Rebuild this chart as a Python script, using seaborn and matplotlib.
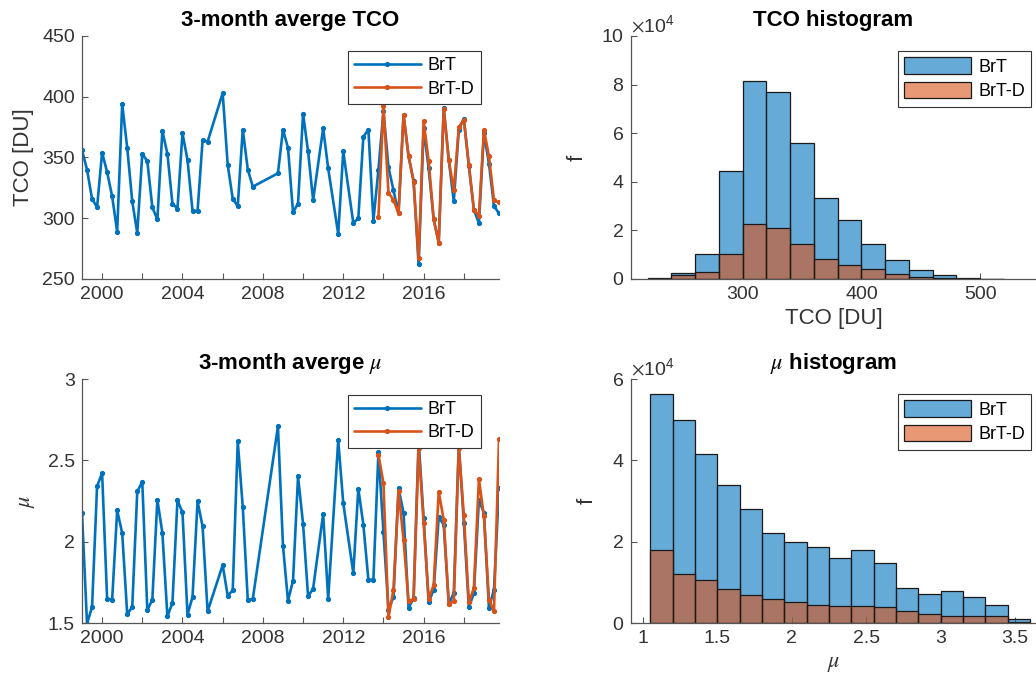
import matplotlib
matplotlib.use("Agg")
import matplotlib.pyplot as plt
from matplotlib.ticker import FixedLocator, FuncFormatter
import pandas as pd
import seaborn as sns

# ---- seasonal (3-month) time axis, decimal years ----
time_brt = [
    1999.00, 1999.25, 1999.50, 1999.75, 2000.00, 2000.25, 2000.50, 2000.75,
    2001.00, 2001.25, 2001.50, 2001.75, 2002.00, 2002.25, 2002.50, 2002.75,
    2003.00, 2003.25, 2003.50, 2003.75, 2004.00, 2004.25, 2004.50, 2004.75,
    2005.00, 2005.25,
    2006.00, 2006.25, 2006.50, 2006.75, 2007.00, 2007.25, 2007.50,
    2008.75, 2009.00, 2009.25, 2009.50, 2009.75, 2010.00, 2010.25, 2010.50,
    2011.00, 2011.25, 2011.75, 2012.00, 2012.50, 2012.75,
    2013.00, 2013.25, 2013.50, 2013.75, 2014.00, 2014.25, 2014.50, 2014.75,
    2015.00, 2015.25, 2015.50, 2015.75, 2016.00, 2016.25, 2016.50, 2016.75,
    2017.00, 2017.25, 2017.50, 2017.75, 2018.00, 2018.25, 2018.50, 2018.75,
    2019.00, 2019.25, 2019.50, 2019.75,
]
time_brtd = [
    2013.75, 2014.00, 2014.25, 2014.50, 2014.75,
    2015.00, 2015.25, 2015.50, 2015.75, 2016.00, 2016.25, 2016.50, 2016.75,
    2017.00, 2017.25, 2017.50, 2017.75, 2018.00, 2018.25, 2018.50, 2018.75,
    2019.00, 2019.25, 2019.50, 2019.75,
]

# 3-month average total column ozone [DU]
tco_brt = [
    356, 340, 316, 309, 354, 338, 318, 289,
    394, 358, 314, 288, 353, 347, 309, 299,
    372, 353, 312, 308, 370, 348, 306, 306,
    364, 363,
    403, 344, 316, 310, 373, 340, 326,
    337, 373, 358, 305, 312, 386, 355, 315,
    374, 341, 287, 355, 296, 300,
    367, 373, 298, 340, 388, 342, 323, 304,
    385, 351, 331, 262, 374, 341, 299, 280,
    391, 348, 314, 373, 382, 343, 307, 296,
    370, 345, 310, 304,
]
tco_brtd = [
    301, 392, 321, 315, 304,
    385, 351, 330, 267, 380, 347, 299, 280,
    390, 348, 323, 375, 381, 344, 307, 302,
    373, 351, 315, 313,
]

# 3-month average mu
mu_brt = [
    2.176, 1.496, 1.598, 2.340, 2.422, 1.649, 1.643, 2.192,
    2.053, 1.555, 1.598, 2.309, 2.367, 1.578, 1.643, 2.258,
    2.053, 1.541, 1.623, 2.254, 2.180, 1.551, 1.660, 2.248,
    2.094, 1.572,
    1.856, 1.668, 1.700, 2.617, 2.213, 1.639, 1.649,
    2.709, 1.975, 1.637, 1.760, 2.401, 2.110, 1.664, 1.711,
    2.170, 1.649, 2.623, 2.237, 1.807, 2.326,
    2.104, 1.766, 1.766, 2.550, 2.059, 1.582, 1.660, 2.330,
    2.176, 1.592, 1.653, 2.620, 2.145, 1.627, 1.705, 2.150,
    2.104, 1.617, 1.684, 2.600, 2.115, 1.596, 1.684, 2.258,
    2.176, 1.592, 1.705, 2.330,
]
mu_brtd = [
    2.535, 2.360, 1.535, 1.705, 2.309,
    2.012, 1.633, 1.649, 2.576, 2.115, 1.647, 1.735, 2.305,
    2.135, 1.617, 1.633, 2.576, 2.166, 1.627, 1.715, 2.385,
    2.155, 1.643, 1.571, 2.631,
]

# ---- histogram bins and counts ----
tco_bin_edges = [220, 240, 260, 280, 300, 320, 340, 360, 380, 400,
                 420, 440, 460, 480, 500, 520]
tco_hist_brt = [500, 2300, 10400, 44400, 81600, 77100, 55800, 33500,
                24300, 14500, 7700, 3600, 1800, 500, 100]
tco_hist_brtd = [200, 1500, 3000, 10400, 22800, 20900, 14500, 8100,
                 5900, 4000, 2200, 1000, 500, 100, 0]

mu_bin_edges = [1.05, 1.20, 1.35, 1.50, 1.65, 1.80, 1.95, 2.10, 2.25,
                2.40, 2.55, 2.70, 2.85, 3.00, 3.15, 3.30, 3.45, 3.60]
mu_hist_brt = [56400, 50000, 41600, 33900, 28100, 22100, 19900, 18800,
               16100, 18000, 14700, 8600, 7200, 7800, 6500, 4500, 1000]
mu_hist_brtd = [18000, 12000, 10600, 8400, 7000, 5800, 5100, 4500,
                4300, 4300, 4000, 2900, 2300, 1800, 1800, 1600, 150]

year_ticks = [2000, 2002, 2004, 2006, 2008, 2010, 2012, 2014, 2016, 2018]

BLUE = "#0072BD"
ORANGE = "#D95319"
SPINE_COLOR = "#555555"
TEXT_COLOR = "#333333"

sns.set_style("ticks")
plt.rcParams["font.family"] = ["Liberation Sans", "DejaVu Sans"]
plt.rcParams["mathtext.fontset"] = "stix"
plt.rcParams["axes.edgecolor"] = SPINE_COLOR
plt.rcParams["xtick.color"] = SPINE_COLOR
plt.rcParams["ytick.color"] = SPINE_COLOR
plt.rcParams["xtick.labelcolor"] = TEXT_COLOR
plt.rcParams["ytick.labelcolor"] = TEXT_COLOR
plt.rcParams["axes.labelcolor"] = TEXT_COLOR
plt.rcParams["text.color"] = "black"

fig = plt.figure(figsize=(10.36, 6.87), dpi=100)
W, H = 1036, 687


def add_ax(x0, y0, x1, y1):
    return fig.add_axes([x0 / W, 1 - y1 / H, (x1 - x0) / W, (y1 - y0) / H])


ax_tco = add_ax(82, 36, 499, 279)
ax_mu = add_ax(82, 379, 499, 623)
ax_htco = add_ax(631, 36, 1036, 279)
ax_hmu = add_ax(631, 379, 1036, 623)

TICK_FS = 14
LABEL_FS = 16
TITLE_FS = 16
LEG_FS = 13


def style_axes(ax):
    sns.despine(ax=ax)
    ax.spines["left"].set_linewidth(0.9)
    ax.spines["bottom"].set_linewidth(0.9)
    ax.tick_params(direction="in", length=4, width=0.8, labelsize=TICK_FS,
                   pad=5)


def g_fmt(v, pos):
    return f"{v:g}"


def year_fmt(v, pos):
    return f"{int(round(v))}" if int(round(v)) % 4 == 0 else ""


line_kw = dict(marker=".", markersize=6, linewidth=1.9, estimator=None,
               sort=False)

# ---- time series panels ----
for ax, yb, yd in [(ax_tco, tco_brt, tco_brtd), (ax_mu, mu_brt, mu_brtd)]:
    sns.lineplot(x=time_brt, y=yb, ax=ax, color=BLUE, label="BrT",
                 markeredgecolor=BLUE, **line_kw)
    sns.lineplot(x=time_brtd, y=yd, ax=ax, color=ORANGE, label="BrT-D",
                 markeredgecolor=ORANGE, **line_kw)
    style_axes(ax)
    ax.set_xlim(time_brt[0], time_brt[-1])
    ax.xaxis.set_major_locator(FixedLocator(year_ticks))
    ax.xaxis.set_major_formatter(FuncFormatter(year_fmt))
    ax.set_xlabel("")

ax_tco.set_ylim(250, 450)
ax_tco.set_yticks([250, 300, 350, 400, 450])
ax_tco.set_ylabel("TCO [DU]", fontsize=LABEL_FS, labelpad=6)
ax_tco.set_title("3-month averge TCO", fontsize=TITLE_FS, fontweight="bold",
                 pad=7)

ax_mu.set_ylim(1.5, 3)
ax_mu.set_yticks([1.5, 2, 2.5, 3])
ax_mu.yaxis.set_major_formatter(FuncFormatter(g_fmt))
ax_mu.set_ylabel(r"$\mu$", fontsize=LABEL_FS, labelpad=8)
ax_mu.set_title(r"3-month averge $\mu$", fontsize=TITLE_FS, fontweight="bold",
                pad=7)


# ---- histogram panels ----
def draw_hist(ax, edges, counts, color, label):
    edges = [float(e) for e in edges]
    centers = [(a + b) / 2 for a, b in zip(edges[:-1], edges[1:])]
    df = pd.DataFrame({"value": centers, "count": [float(c) for c in counts]})
    sns.histplot(data=df, x="value", weights="count", bins=edges, ax=ax,
                 color=color, alpha=0.6, edgecolor="#1a1a1a", linewidth=0.9,
                 label=label)


draw_hist(ax_htco, tco_bin_edges, tco_hist_brt, BLUE, "BrT")
draw_hist(ax_htco, tco_bin_edges, tco_hist_brtd, ORANGE, "BrT-D")
draw_hist(ax_hmu, mu_bin_edges, mu_hist_brt, BLUE, "BrT")
draw_hist(ax_hmu, mu_bin_edges, mu_hist_brtd, ORANGE, "BrT-D")

for ax in (ax_htco, ax_hmu):
    style_axes(ax)
    ax.ticklabel_format(axis="y", style="sci", scilimits=(4, 4),
                        useMathText=True)
    ax.yaxis.get_offset_text().set_fontsize(TICK_FS)
    ax.yaxis.get_offset_text().set_color(TEXT_COLOR)
    ax.set_ylabel("f", fontsize=LABEL_FS, labelpad=10)

ax_htco.set_xlim(206, 547)
ax_htco.set_xticks([300, 400, 500])
ax_htco.set_ylim(0, 100000)
ax_htco.set_yticks([0, 20000, 40000, 60000, 80000, 100000])
ax_htco.set_xlabel("TCO [DU]", fontsize=LABEL_FS)
ax_htco.set_title("TCO histogram", fontsize=TITLE_FS, fontweight="bold", pad=7)

ax_hmu.set_xlim(0.92, 3.64)
ax_hmu.set_xticks([1, 1.5, 2, 2.5, 3, 3.5])
ax_hmu.xaxis.set_major_formatter(FuncFormatter(g_fmt))
ax_hmu.set_ylim(0, 60000)
ax_hmu.set_yticks([0, 20000, 40000, 60000])
ax_hmu.set_xlabel(r"$\mu$", fontsize=LABEL_FS)
ax_hmu.set_title(r"$\mu$ histogram", fontsize=TITLE_FS, fontweight="bold",
                 pad=7)

# ---- legends ----
leg_kw = dict(fontsize=LEG_FS, frameon=True, fancybox=False, framealpha=1,
              edgecolor="#333333", borderaxespad=0, handletextpad=0.4,
              borderpad=0.35, labelspacing=0.35, loc="upper right")

for ax, anchor in [(ax_tco, (0.957, 0.938)), (ax_mu, (0.957, 0.936))]:
    h, l = ax.get_legend_handles_labels()
    leg = ax.legend(h, l, bbox_to_anchor=anchor, handlelength=3.7, **leg_kw)
    leg.get_frame().set_linewidth(0.8)

for ax in (ax_htco, ax_hmu):
    h, l = ax.get_legend_handles_labels()
    leg = ax.legend(h, l, bbox_to_anchor=(0.988, 0.938), handlelength=3.7,
                    handleheight=1.0, **leg_kw)
    leg.get_frame().set_linewidth(0.8)

fig.savefig("out.png", dpi=100)
